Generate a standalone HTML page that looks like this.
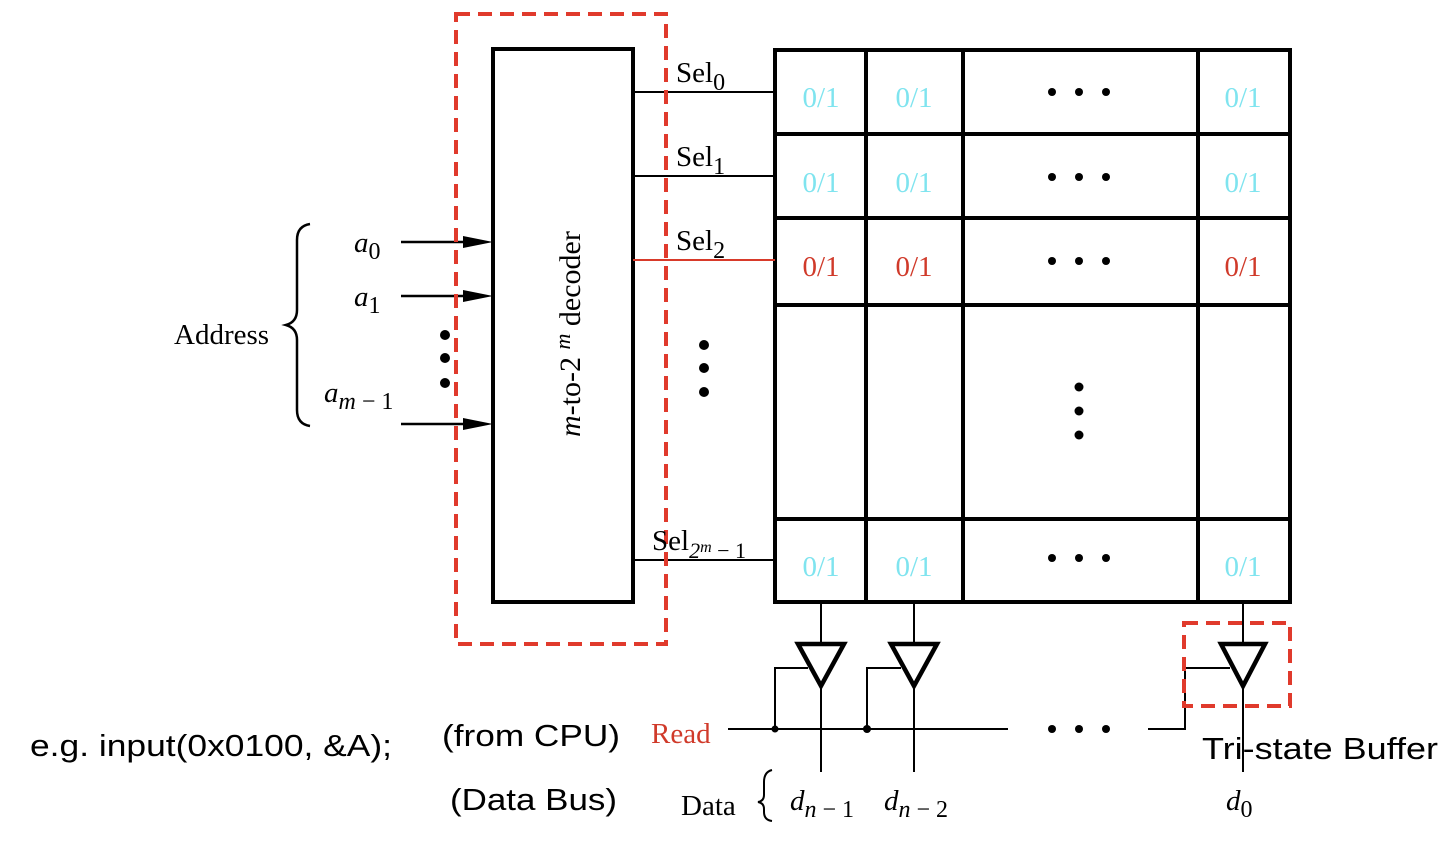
<!DOCTYPE html>
<html><head><meta charset="utf-8"><style>
html,body{margin:0;padding:0;background:#fff;}
svg{display:block}
.s{font-family:"Liberation Serif",serif;}
.a{font-family:"Liberation Sans","DejaVu Sans",sans-serif;}
</style></head><body>
<svg width="1440" height="844" viewBox="0 0 1440 844" xmlns="http://www.w3.org/2000/svg">
<rect width="1440" height="844" fill="#fff"/>
<g stroke="#000" stroke-width="4" fill="none">
<rect x="775" y="50" width="515" height="552"/>
<line x1="866" y1="50" x2="866" y2="602"/>
<line x1="963" y1="50" x2="963" y2="602"/>
<line x1="1198" y1="50" x2="1198" y2="602"/>
<line x1="775" y1="134" x2="1290" y2="134"/>
<line x1="775" y1="218" x2="1290" y2="218"/>
<line x1="775" y1="305" x2="1290" y2="305"/>
<line x1="775" y1="519" x2="1290" y2="519"/>
<rect x="493" y="49" width="140" height="553"/>
</g>
<g stroke="#000" stroke-width="2">
<line x1="633" y1="92" x2="775" y2="92"/>
<line x1="633" y1="176" x2="775" y2="176"/>
<line x1="633" y1="560" x2="775" y2="560"/>
</g>
<line x1="633" y1="260" x2="775" y2="260" stroke="#d83a2a" stroke-width="2"/>
<g stroke="#000" stroke-width="2.5">
<line x1="401" y1="242" x2="470" y2="242"/>
<line x1="401" y1="296" x2="470" y2="296"/>
<line x1="401" y1="424" x2="470" y2="424"/>
</g>
<g fill="#000">
<polygon points="463,236 493,242 463,248"/>
<polygon points="463,290 493,296 463,302"/>
<polygon points="463,418 493,424 463,430"/>
<circle cx="445" cy="335" r="5"/><circle cx="445" cy="358" r="5"/><circle cx="445" cy="383" r="5"/>
<circle cx="704" cy="345" r="5"/><circle cx="704" cy="368" r="5"/><circle cx="704" cy="392" r="5"/>
<circle cx="1079" cy="387" r="4.5"/><circle cx="1079" cy="411" r="4.5"/><circle cx="1079" cy="435" r="4.5"/>
<circle cx="1052" cy="92" r="4"/><circle cx="1079" cy="92" r="4"/><circle cx="1106" cy="92" r="4"/>
<circle cx="1052" cy="177" r="4"/><circle cx="1079" cy="177" r="4"/><circle cx="1106" cy="177" r="4"/>
<circle cx="1052" cy="261" r="4"/><circle cx="1079" cy="261" r="4"/><circle cx="1106" cy="261" r="4"/>
<circle cx="1052" cy="558" r="4"/><circle cx="1079" cy="558" r="4"/><circle cx="1106" cy="558" r="4"/>
<circle cx="1052" cy="729" r="4"/><circle cx="1079" cy="729" r="4"/><circle cx="1106" cy="729" r="4"/>
<circle cx="775" cy="729" r="3.5"/><circle cx="867" cy="729" r="4"/>
</g>
<path d="M310,224 Q297,226 297,240 L297,310 Q297,322 286,325 Q297,328 297,340 L297,410 Q297,424 310,426" fill="none" stroke="#000" stroke-width="2.5"/>
<g stroke="#000" stroke-width="2" fill="none">
<line x1="821" y1="602" x2="821" y2="772"/>
<line x1="914" y1="602" x2="914" y2="772"/>
<line x1="1243" y1="602" x2="1243" y2="772"/>
<polyline points="808,668 775,668 775,729"/>
<polyline points="901,668 867,668 867,729"/>
<polyline points="1230,668 1185,668 1185,729 1148,729"/>
<line x1="728" y1="729" x2="1008" y2="729"/>
</g>
<g stroke="#000" stroke-width="4.5" fill="#fff" stroke-linejoin="miter">
<polygon points="798,644 844,644 821,686"/>
<polygon points="891,644 937,644 914,686"/>
<polygon points="1221,644 1265,644 1243,686"/>
</g>
<path d="M772,770 Q764,772 764,782 L764,795 Q764,801 758,802 Q764,803 764,809 L764,812 Q764,820 772,821" fill="none" stroke="#000" stroke-width="2"/>
<g stroke="#e03a2c" stroke-width="4" fill="none" stroke-dasharray="14,8">
<rect x="456" y="14" width="210" height="630"/>
<rect x="1184" y="623" width="106" height="83"/>
</g>
<g class="s" font-size="29" fill="#000">
<text x="676" y="82">Sel<tspan font-size="24" dy="8">0</tspan></text>
<text x="676" y="166">Sel<tspan font-size="24" dy="8">1</tspan></text>
<text x="676" y="250">Sel<tspan font-size="24" dy="8">2</tspan></text>
<text x="652" y="550">Sel<tspan font-size="22" dy="8" font-style="italic">2</tspan><tspan font-size="16" dy="-6" font-style="italic">m</tspan><tspan font-size="22" dy="6"> − 1</tspan></text>
<text x="174" y="344">Address</text>
<text x="354" y="252" font-style="italic">a<tspan font-size="24" dy="7" font-style="normal">0</tspan></text>
<text x="354" y="306" font-style="italic">a<tspan font-size="24" dy="7" font-style="normal">1</tspan></text>
<text x="324" y="402" font-style="italic">a<tspan font-size="24" dy="7">m</tspan><tspan font-size="24" font-style="normal"> − 1</tspan></text>
<text x="681" y="815">Data</text>
<text x="790" y="810" font-style="italic">d<tspan font-size="24" dy="7">n</tspan><tspan font-size="24" font-style="normal"> − 1</tspan></text>
<text x="884" y="810" font-style="italic">d<tspan font-size="24" dy="7">n</tspan><tspan font-size="24" font-style="normal"> − 2</tspan></text>
<text x="1226" y="810" font-style="italic">d<tspan font-size="24" dy="7" font-style="normal">0</tspan></text>
<text transform="translate(580,437) rotate(-90)" font-size="30"><tspan font-style="italic">m</tspan>-to-2 <tspan font-style="italic" font-size="22" dy="-10">m</tspan><tspan dy="10"> decoder</tspan></text>
</g>
<text class="s" x="651" y="743" font-size="29" fill="#d03a2a">Read</text>
<g class="s" font-size="29" fill="#7fe4ef" text-anchor="middle">
<text x="821" y="107">0/1</text><text x="914" y="107">0/1</text><text x="1243" y="107">0/1</text>
<text x="821" y="192">0/1</text><text x="914" y="192">0/1</text><text x="1243" y="192">0/1</text>
<text x="821" y="576">0/1</text><text x="914" y="576">0/1</text><text x="1243" y="576">0/1</text>
</g>
<g class="s" font-size="29" fill="#d03a2a" text-anchor="middle">
<text x="821" y="276">0/1</text><text x="914" y="276">0/1</text><text x="1243" y="276">0/1</text>
</g>
<g class="a" font-size="31" fill="#000">
<text x="30" y="756" textLength="362" lengthAdjust="spacingAndGlyphs">e.g. input(0x0100, &amp;A);</text>
<text x="442" y="746" textLength="178" lengthAdjust="spacingAndGlyphs">(from CPU)</text>
<text x="450" y="810" textLength="167" lengthAdjust="spacingAndGlyphs">(Data Bus)</text>
<text x="1202" y="759" textLength="236" lengthAdjust="spacingAndGlyphs">Tri-state Buffer</text>
</g>
</svg>
</body></html>
